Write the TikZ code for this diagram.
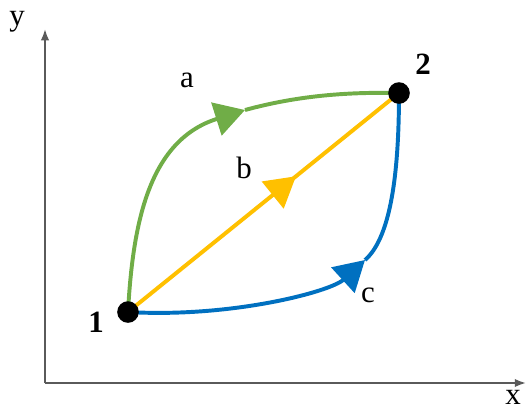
\documentclass[tikz,border=0pt]{standalone}
\usepackage{fontspec}
\setmainfont{Liberation Serif}
\usetikzlibrary{arrows.meta,decorations.markings}
\definecolor{pathgreen}{RGB}{112,173,71}
\definecolor{pathyellow}{RGB}{255,192,0}
\definecolor{pathblue}{RGB}{0,112,192}
\definecolor{axisgray}{RGB}{90,90,90}
\begin{document}
\begin{tikzpicture}[x=0.025cm,y=-0.025cm,
  axis/.style={draw=axisgray,line width=1.4pt,-{Latex[length=8pt,width=6pt]}},
  curve/.style={line width=2.8pt},
  head/.style={-{Triangle[length=0.75cm,width=0.85cm]}},
  dot/.style={circle,fill=black,inner sep=0pt,minimum size=0.54cm},
  lbl/.style={font=\fontsize{22}{26}\selectfont,inner sep=0pt}]
\useasboundingbox (0,0) rectangle (528,410);
\coordinate (o) at (45,383);
\coordinate (ytip) at (45,29);
\coordinate (xtip) at (526,383);
\coordinate (p1) at (128,312);
\coordinate (p2) at (399,93);
\coordinate (ma) at (245,110);
\coordinate (mc) at (365,260);
% axes
\draw[axis] (o) -- (ytip);
\draw[axis] (o) -- (xtip);
% path a
\draw[curve,pathgreen,head] (p1) .. controls (133,220) and (150,140) .. (ma);
\draw[curve,pathgreen] (ma) .. controls (300,95) and (350,92) .. (p2);
% path b
\draw[curve,pathyellow,postaction={decorate},
  decoration={markings,mark=at position 0.62 with {\arrow{Triangle[length=0.75cm,width=0.85cm]}}}] (p1) -- (p2);
% path c
\draw[curve,pathblue,head] (p1) .. controls (230,318) and (330,292) .. (mc);
\draw[curve,pathblue] (mc) .. controls (388,240) and (399,185) .. (p2);
% states
\node[dot] (n1) at (p1) {};
\node[dot] (n2) at (p2) {};
\node[lbl,font=\fontsize{22}{26}\selectfont\bfseries] (l1) at (96,322) {1};
\node[lbl,font=\fontsize{22}{26}\selectfont\bfseries] (l2) at (423,64) {2};
\node[lbl] (la) at (187,80) {a};
\node[lbl] (lb) at (244,168) {b};
\node[lbl] (lc) at (368,295) {c};
\node[lbl] (ly) at (17,22) {y};
\node[lbl] (lx) at (513,397) {x};
\end{tikzpicture}
\end{document}
